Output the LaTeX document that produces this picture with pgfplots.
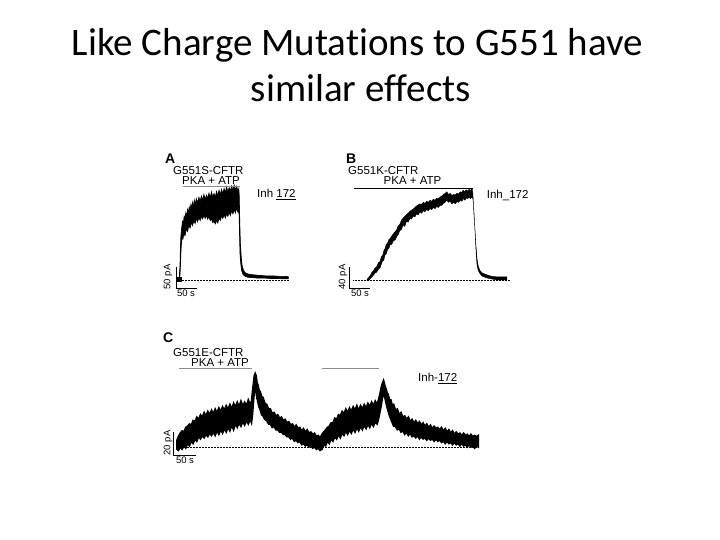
\documentclass[border=0pt]{standalone}
\usepackage{fontspec}
\setmainfont{Liberation Sans}
\newfontfamily\titlefont[Ligatures={NoCommon}]{Carlito}
\usepackage{pgfplots}
\pgfplotsset{compat=1.18}
\definecolor{bargray}{HTML}{8C8C8C}

\pgfplotsset{trace/.style={hide axis, scale only axis, clip=false,
    enlargelimits=false, anchor=south west}}

\begin{document}
\begin{tikzpicture}
\path[fill=white] (0,0) rectangle (720pt,540pt);

% ---- panel A : G551S, x in s, y in pA
\begin{axis}[trace, x=0.42pt, y=0.42pt, xmin=-30, xmax=280, ymin=-40, ymax=230,
    at={(165.7pt,243.9pt)}]
\addplot[fill=black, draw=black, line width=0.7pt] coordinates {
(0,0) (2,1) (4,30) (5,70) (6,100) (8,122) (10,138) (12,133) (14,150) (16,144)
(18,158) (20,150) (22,166) (24,158) (26,172) (28,163) (30,178) (32,170) (34,183)
(36,172) (38,188) (40,178) (43,192) (46,182) (49,195) (52,186) (55,198) (58,188)
(61,202) (64,190) (67,200) (70,193) (73,205) (76,194) (79,208) (82,196) (85,204)
(88,195) (91,209) (94,199) (97,212) (100,201) (103,214) (106,203) (109,216)
(112,206) (115,220) (118,208) (121,218) (124,210) (127,222) (130,211) (133,224)
(136,212) (139,221) (142,210) (144,216) (145,200)
(146,150) (147,110) (148,80) (150,50) (152,32) (155,22) (158,17) (162,14) (168,12)
(175,11) (185,10) (195,9) (210,8) (225,8) (240,7) (255,7) (262,6)
(262,1) (250,1) (235,2) (220,2) (205,3) (190,3) (175,4) (165,5) (158,8) (154,12)
(151,20) (149,35) (147,60) (146,100) (145,150)
(144,168) (142,160) (139,170) (136,158) (133,166) (130,156) (127,163) (124,152)
(121,160) (118,150) (115,156) (112,146) (109,154) (106,145) (103,151) (100,140)
(97,146) (94,134) (91,140) (88,132) (85,138) (82,135) (79,144) (76,140) (73,150)
(70,143) (67,152) (64,145) (61,153) (58,144) (55,150) (52,140) (49,148) (46,137)
(43,145) (40,133) (37,140) (34,128) (31,135) (28,122) (25,128) (22,114) (19,120)
(16,104) (13,108) (11,96) (9,100) (7,80) (6,60) (5,30) (4,10) (2,0) (0,0)
} -- cycle;
\addplot[only marks, mark=square*, mark size=2.3pt] coordinates {(1.7,0)};
\draw[densely dotted, line width=0.5pt] (8,-2) -- (262,-2);
\draw[bargray, line width=1.1pt] (11,220) -- (147,220);
\draw[line width=0.6pt] (-5.5,29) -- (-5.5,-21) -- (44.5,-21);
\end{axis}

% ---- panel B : G551K
\begin{axis}[trace, x=0.42pt, y=0.525pt, xmin=-50, xmax=345, ymin=-30, ymax=180,
    at={(346pt,244.25pt)}]
\addplot[fill=black, draw=black, line width=0.4pt] coordinates {
(0,1) (4,5) (8,9) (12,15) (15,17) (19,23) (23,25) (27,33) (31,35) (34,44) (37,46)
(40,56) (43,60) (46,68) (49,70) (52,77) (55,79) (59,84) (63,88) (67,92) (71,96)
(74,103) (78,106) (82,114) (86,118) (90,121) (94,125) (98,127) (102,131) (106,133)
(110,135) (114,138) (118,141) (122,143) (126,145) (130,144) (134,148) (138,146)
(142,150) (146,148) (150,152) (154,150) (158,154) (162,152) (166,156) (170,155)
(174,158) (178,160) (182,163) (186,165) (190,168) (194,163) (198,165) (202,161)
(206,163) (210,162) (214,165) (218,164) (222,168) (226,167) (229,171) (233,168)
(236,172) (240,169) (243,173) (246,170) (249,174) (251,172) (252,165)
(253,150) (255,120) (257,98) (259,70) (262,40) (265,26) (269,18) (275,13) (285,10)
(297,7) (309,6) (320,6) (333,6)
(333,0) (320,0) (309,0) (297,2) (285,4) (275,7) (269,12) (265,18) (262,28) (260,50)
(258,80) (256,110) (254,140) (252,155)
(251,158) (249,157) (246,155) (243,158) (240,155) (236,156) (233,152) (229,155)
(226,150) (222,152) (218,148) (214,149) (210,145) (206,148) (202,145) (198,150)
(194,148) (190,152) (186,148) (182,146) (178,142) (174,142) (170,138) (166,140)
(162,136) (158,138) (154,134) (150,136) (146,132) (142,134) (138,130) (134,132)
(130,127) (126,130) (122,124) (118,126) (114,120) (110,122) (106,116) (102,117)
(98,110) (94,112) (90,102) (86,105) (82,96) (78,94) (74,86) (71,83) (67,76) (63,75)
(59,68) (55,67) (52,60) (49,58) (46,50) (43,48) (40,38) (37,36) (34,30) (31,23)
(27,20) (23,15) (19,13) (15,9) (12,6) (8,3) (4,-1) (0,-1)
} -- cycle;
\draw[densely dotted, line width=0.5pt] (-33,-1) -- (340,-1);
\draw[black, line width=0.9pt] (-31,175) -- (252,175);
\draw[line width=0.6pt] (-43,25) -- (-43,-15) -- (7,-15);
\end{axis}

% ---- panel C : G551E
\begin{axis}[trace, x=0.46pt, y=1.15pt, xmin=-25, xmax=660, ymin=-15, ymax=75,
    at={(165.5pt,75.75pt)}]
\addplot[fill=black, draw=black, line width=1.6pt] coordinates {
(0,6) (3,9) (7,12) (11,14) (15,13) (19,17) (23,18) (27,20) (31,19) (35,23) (39,22)
(43,26) (47,24) (51,28) (55,26) (59,30) (63,27) (67,31) (71,28) (75,32) (79,29)
(83,33) (87,30) (91,34) (95,31) (99,35) (103,32) (107,36) (111,33) (115,37)
(119,33) (123,38) (127,35) (131,39) (135,35) (139,40) (143,36) (147,39) (151,36)
(155,41) (159,37) (162,40) (164,48) (166,55) (168,62) (170,64) (172,62) (174,56)
(176,54) (178,50) (181,48) (184,44) (187,43) (191,38) (195,37) (199,33) (203,33)
(207,29) (211,30) (215,27) (219,28) (223,25) (227,26) (231,23) (235,24) (239,21)
(243,22) (247,19) (251,20) (255,17) (259,19) (263,16) (267,17) (271,14) (275,16)
(279,13) (283,15) (287,12) (291,13) (295,11) (299,12) (303,9) (307,10) (311,8)
(315,11) (319,13) (323,15) (327,17) (331,18) (335,21) (339,21) (343,25) (347,24)
(351,28) (355,27) (359,31) (363,29) (367,33) (371,30) (375,34) (379,31) (383,35)
(387,32) (391,36) (395,32) (399,36) (403,33) (407,37) (411,34) (415,38) (419,35)
(423,39) (427,36) (431,40) (435,37) (438,41) (441,46) (444,52) (447,56) (449,58)
(451,55) (453,52) (455,50) (457,47) (459,46) (462,41) (465,41) (468,36) (471,37)
(475,32) (479,33) (483,28) (487,30) (491,26) (495,27) (499,24) (503,26) (507,22)
(511,24) (515,21) (519,23) (523,20) (527,22) (531,19) (535,21) (539,18) (543,20)
(547,17) (551,19) (555,16) (559,18) (563,16) (567,17) (571,15) (575,17) (579,14)
(583,16) (587,13) (591,15) (595,12) (599,14) (603,11) (607,13) (611,11) (615,12)
(619,10) (623,12) (627,10) (631,11) (635,9) (639,11) (643,9) (647,10) (651,9)
(655,10)
(655,0) (651,1) (647,-1) (643,1) (639,0) (635,2) (631,0) (627,2) (623,1) (619,3)
(615,1) (611,3) (607,2) (603,4) (599,2) (595,4) (591,3) (587,5) (583,3) (579,5)
(575,4) (571,6) (567,5) (563,7) (559,5) (555,7) (551,6) (547,8) (543,6) (539,8)
(535,7) (531,9) (527,7) (523,10) (519,8) (515,10) (511,9) (507,12) (503,10)
(499,13) (495,11) (491,14) (487,13) (483,16) (479,15) (475,18) (471,18) (468,21)
(465,24) (462,27) (459,31) (457,34) (455,37) (453,41) (451,44) (449,47) (447,44)
(444,36) (441,30) (438,24) (435,20) (431,22) (427,18) (423,21) (419,17) (415,20)
(411,16) (407,19) (403,15) (399,18) (395,14) (391,17) (387,13) (383,16) (379,12)
(375,15) (371,11) (367,14) (363,10) (359,12) (355,8) (351,11) (347,7) (343,9)
(339,5) (335,7) (331,3) (327,5) (323,1) (319,2) (315,-2) (311,-3) (307,-1)
(303,-2) (299,0) (295,-1) (291,1) (287,0) (283,2) (279,1) (275,3) (271,2) (267,5)
(263,4) (259,6) (255,5) (251,8) (247,7) (243,9) (239,9) (235,11) (231,11) (227,13)
(223,13) (219,15) (215,15) (211,18) (207,17) (203,20) (199,20) (195,23) (191,24)
(187,27) (184,28) (181,32) (178,35) (176,39) (174,42) (172,47) (170,50) (168,48)
(166,38) (164,28) (162,21) (159,24) (155,20) (151,23) (147,19) (143,22) (139,18)
(135,21) (131,17) (127,20) (123,15) (119,19) (115,14) (111,17) (107,13) (103,16)
(99,12) (95,15) (91,11) (87,14) (83,10) (79,13) (75,10) (71,12) (67,9) (63,11)
(59,8) (55,10) (51,7) (47,9) (43,5) (39,7) (35,3) (31,5) (27,1) (23,3) (19,-1)
(15,1) (11,-2) (7,0) (3,-3) (0,-2)
} -- cycle;
\draw[densely dotted, line width=0.5pt] (2,0) -- (655,0);
\draw[bargray, line width=1.3pt] (4,68) -- (163,68);
\draw[bargray, line width=1.3pt] (315,68) -- (439,68);
\draw[line width=0.6pt] (-8.7,13) -- (-8.7,-7) -- (41.3,-7);
\end{axis}

% ---- text, in pixel positions of the slide (y downwards)
\begin{scope}[x=1pt, y=-1pt, yshift=540pt]
\node[anchor=base, inner sep=0, font=\titlefont\fontsize{39}{46}\selectfont]
  at (357.5,56) {Like Charge Mutations to G551 have};
\node[anchor=base, inner sep=0, font=\titlefont\fontsize{39}{46}\selectfont]
  at (361,102) {similar effects};

\begin{scope}[every node/.style={inner sep=0, font=\fontsize{11.5}{13}\selectfont}]
\node[anchor=base west, font=\bfseries\fontsize{14}{16}\selectfont] at (165,163.3) {A};
\node[anchor=base west] at (173,175) {G551S-CFTR};
\node[anchor=base] at (211,185) {PKA + ATP};
\node[anchor=base west] at (257,198) {Inh \underline{172}};

\node[anchor=base west, font=\bfseries\fontsize{14}{16}\selectfont] at (346,163.3) {B};
\node[anchor=base west] at (348,174.3) {G551K-CFTR};
\node[anchor=base] at (412.5,185) {PKA + ATP};
\node[anchor=base west] at (486.7,199) {Inh\_172};

\node[anchor=base west, font=\bfseries\fontsize{14}{16}\selectfont] at (163,342.7) {C};
\node[anchor=base west] at (173,357) {G551E-CFTR};
\node[anchor=base] at (220,367) {PKA + ATP};
\node[anchor=base west] at (418,381.7) {Inh-\underline{172}};
\end{scope}

\begin{scope}[every node/.style={inner sep=0, font=\fontsize{9.5}{10}\selectfont}]
\node[rotate=90] at (168,277) {50 pA};
\node at (186,293.5) {50 s};
\node[rotate=90] at (343,277) {40 pA};
\node at (360,293.5) {50 s};
\node[rotate=90] at (168,443) {20 pA};
\node at (185,460.5) {50 s};
\end{scope}
\end{scope}
\end{tikzpicture}
\end{document}
